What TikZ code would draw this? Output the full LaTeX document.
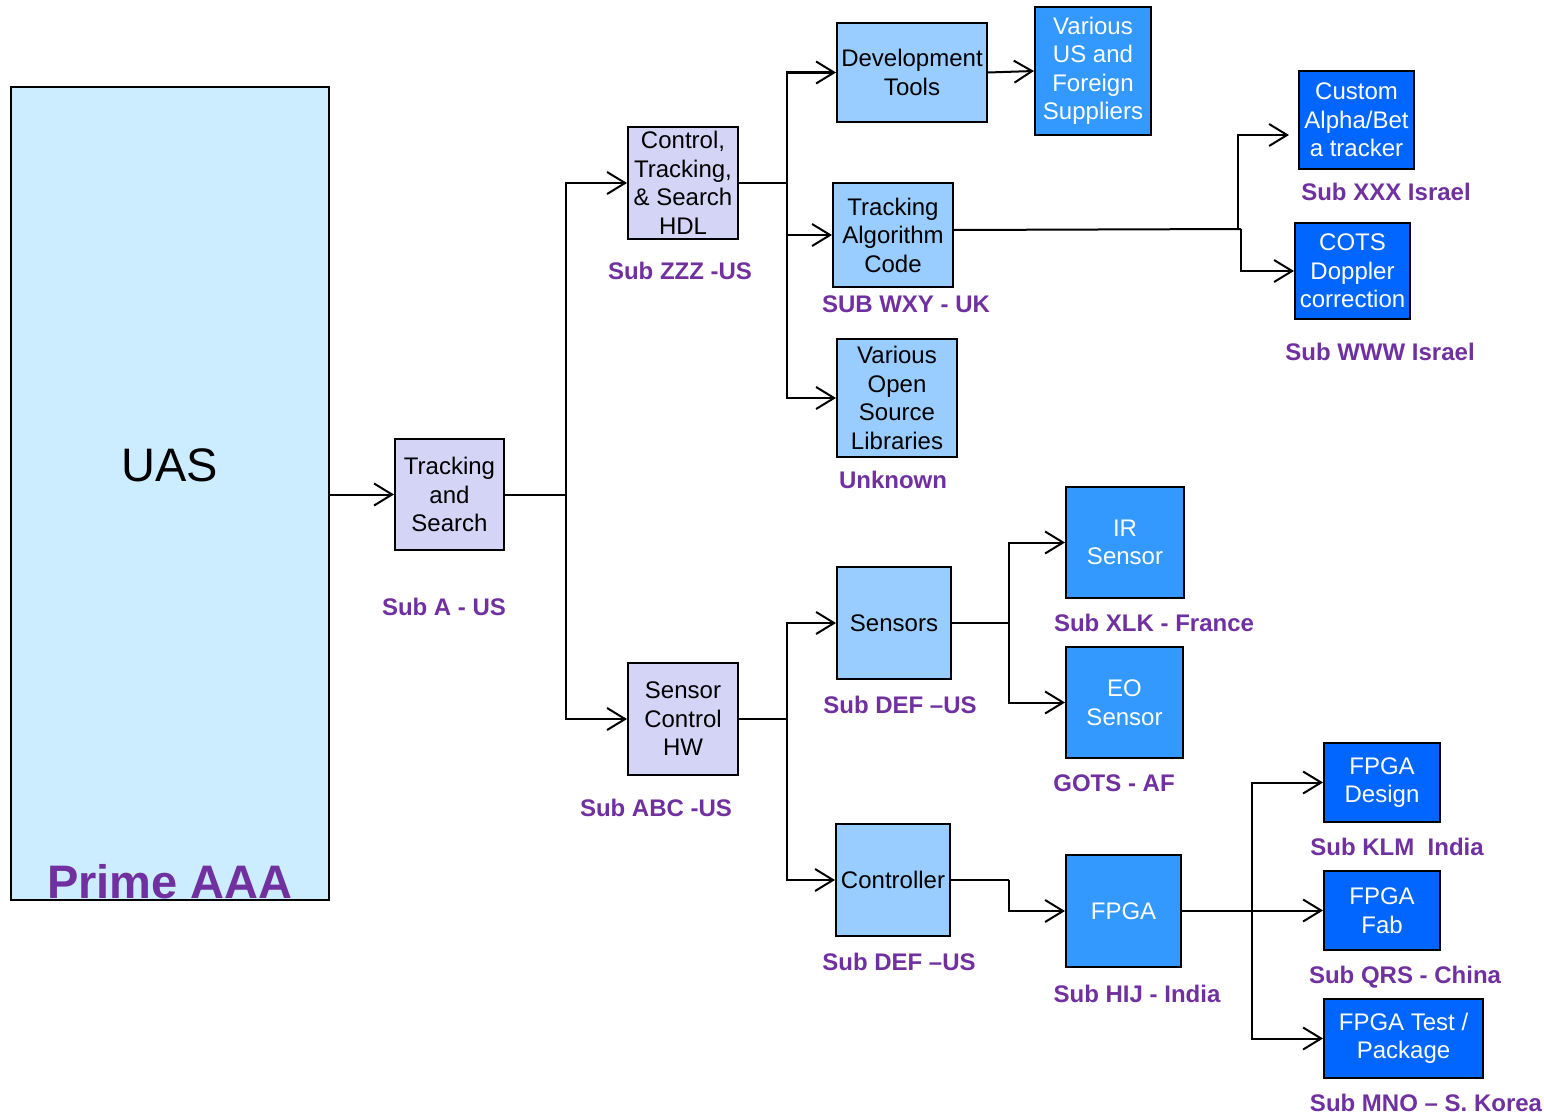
\documentclass[tikz,border=0pt]{standalone}
\usepackage{fontspec}
\setmainfont{Liberation Sans}
\usetikzlibrary{arrows.meta}

\definecolor{uasfill}{RGB}{204,236,255}
\definecolor{lavfill}{RGB}{212,212,246}
\definecolor{ltblue}{RGB}{153,204,255}
\definecolor{midblue}{RGB}{51,153,255}
\definecolor{dkblue}{RGB}{0,102,255}
\definecolor{purp}{RGB}{112,48,160}

\begin{document}
\begin{tikzpicture}[x=1pt,y=-1pt,
  box/.style={draw=black, line width=2pt, inner sep=0pt, align=center,
    font=\fontsize{24}{28.5}\selectfont},
  lavbox/.style={box, fill=lavfill},
  ltbox/.style={box, fill=ltblue},
  mdbox/.style={box, fill=midblue, text=white},
  dkbox/.style={box, fill=dkblue, text=white},
  lbl/.style={text=purp, inner sep=0pt, anchor=base,
    font=\fontsize{24}{28}\selectfont\bfseries},
  wire/.style={line width=2pt},
  arr/.style={wire, -{Straight Barb[length=18pt,width=22pt]}}]

\useasboundingbox (0,0) rectangle (1544,1116);

% top-level system
\node[box, fill=uasfill, minimum width=318, minimum height=813] (uas) at (170,493.5) {};
\node[inner sep=0pt, font=\fontsize{47}{50}\selectfont] (uast) at (170,465) {UAS};
\node[inner sep=0pt, anchor=base, text=purp, font=\fontsize{47}{50}\selectfont\bfseries] (prime) at (170,898) {Prime AAA};

% first and second tiers
\node[lavbox, minimum width=109, minimum height=111] (ts) at (449.5,494.5) {Tracking\\and\\Search};
\node[lavbox, minimum width=110, minimum height=112] (ctl) at (683,183) {Control,\\Tracking,\\\& Search\\HDL};
\node[lavbox, minimum width=110, minimum height=112] (sch) at (683,719) {Sensor\\Control\\HW};

% third tier
\node[ltbox, minimum width=150, minimum height=99] (dev) at (912,72.5) {Development\\Tools};
\node[ltbox, minimum width=120, minimum height=104] (tac) at (893,235) {Tracking\\Algorithm\\Code};
\node[ltbox, minimum width=120, minimum height=118] (vos) at (897,398) {Various\\Open\\Source\\Libraries};
\node[ltbox, minimum width=114, minimum height=112] (sen) at (894,623) {Sensors};
\node[ltbox, minimum width=114, minimum height=112] (ctr) at (893,880) {Controller};

% suppliers
\node[mdbox, minimum width=116, minimum height=128] (var) at (1093,71) {Various\\US and\\Foreign\\Suppliers};
\node[dkbox, minimum width=115, minimum height=98] (cus) at (1356.5,120) {Custom\\Alpha/Bet\\a tracker};
\node[dkbox, minimum width=115, minimum height=96] (cots) at (1352.5,271) {COTS\\Doppler\\correction};
\node[mdbox, minimum width=118, minimum height=111] (ir) at (1125,542.5) {IR\\Sensor};
\node[mdbox, minimum width=117, minimum height=111] (eo) at (1124.5,702.5) {EO\\Sensor};
\node[mdbox, minimum width=115, minimum height=112] (fpga) at (1123.5,911) {FPGA};
\node[dkbox, minimum width=116, minimum height=79] (fd) at (1382,782.5) {FPGA\\Design};
\node[dkbox, minimum width=116, minimum height=79] (ff) at (1382,910.5) {FPGA\\Fab};
\node[dkbox, minimum width=159, minimum height=79] (ft) at (1403.5,1038.5) {FPGA Test /\\Package};

% supplier labels
\node[lbl] (la) at (444,615) {Sub A - US};
\node[lbl] (lzzz) at (680,279) {Sub ZZZ -US};
\node[lbl] (labc) at (656,816) {Sub ABC -US};
\node[lbl] (lwxy) at (906,312) {SUB WXY - UK};
\node[lbl] (lunk) at (893,488) {Unknown};
\node[lbl] (lxxx) at (1386,200) {Sub XXX Israel};
\node[lbl] (lwww) at (1380,360) {Sub WWW Israel};
\node[lbl] (ldefa) at (900,713) {Sub DEF –US};
\node[lbl] (ldefb) at (899,970) {Sub DEF –US};
\node[lbl] (lxlk) at (1154,631) {Sub XLK - France};
\node[lbl] (lgots) at (1114,791) {GOTS - AF};
\node[lbl] (lhij) at (1137,1002) {Sub HIJ - India};
\node[lbl] (lklm) at (1397,855) {Sub KLM\ \ India};
\node[lbl] (lqrs) at (1405,983) {Sub QRS - China};
\node[lbl] (lmno) at (1426,1111) {Sub MNO – S. Korea};

% bus lines
\coordinate (b1) at (566,0);
\coordinate (b2) at (787,0);
\coordinate (b3) at (1009,0);
\coordinate (b4) at (1252,0);
\coordinate (j1) at (1238,229);
\coordinate (j2) at (1241,229);

% connectors
\draw[arr] (ts.west -| uas.east) -- (ts.west);

\draw[wire] (ts.east) -- (ts.east -| b1);
\draw[arr] (ts.east -| b1) |- (ctl.west);
\draw[arr] (ts.east -| b1) |- (sch.west);

\draw[wire] (ctl.east) -- (ctl.east -| b2);
\draw[arr] (ctl.east -| b2) |- (dev.west);
\draw[arr] (ctl.east -| b2) |- (tac.west);
\draw[arr] (ctl.east -| b2) |- (vos.west);

\draw[arr] (dev.east) -- (var.west);

\draw[wire] ([yshift=5pt]tac.east) -- (j2);
\draw[arr] (j1) |- ([xshift=-9pt,yshift=-15pt]cus.west);
\draw[arr] (j2) |- (cots.west);

\draw[wire] (sch.east) -- (sch.east -| b2);
\draw[arr] (sch.east -| b2) |- (sen.west);
\draw[arr] (sch.east -| b2) |- (ctr.west);

\draw[wire] (sen.east) -- (sen.east -| b3);
\draw[arr] (sen.east -| b3) |- (ir.west);
\draw[arr] (sen.east -| b3) |- (eo.west);

\draw[wire] (ctr.east) -- (ctr.east -| b3);
\draw[arr] (ctr.east -| b3) |- (fpga.west);

\draw[wire] (fpga.east) -- (fpga.east -| b4);
\draw[arr] (fpga.east -| b4) |- (fd.west);
\draw[arr] (fpga.east -| b4) |- (ff.west);
\draw[arr] (fpga.east -| b4) |- (ft.west);

\end{tikzpicture}
\end{document}
